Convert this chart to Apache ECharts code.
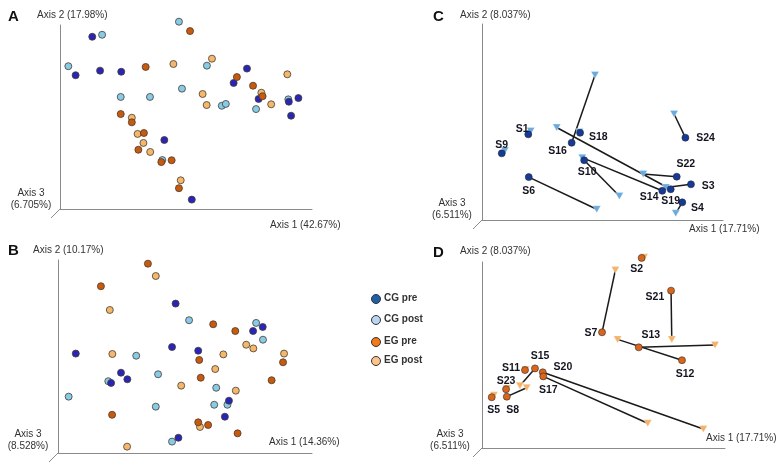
<!DOCTYPE html>
<html>
<head>
<meta charset="utf-8">
<script src="https://cdn.jsdelivr.net/npm/echarts@6/dist/echarts.min.js"></script>
<style>html,body{margin:0;padding:0;background:#fff}#c{width:778px;height:465px}</style>
</head>
<body>
<div id="c"></div>
<script>
// ---------- Panel A (Axis 1 vs Axis 2 scores, rescaled 0-100) ----------
const aCGpre  = [[12.8,93.6],[6.2,72.7],[15.9,75.2],[24.3,74.6],[74.2,76.3],[68.9,68.5],[78.8,59.8],[90.8,58.3],[94.6,60.3],[91.7,50.7],[41.4,37.5],[52.3,5.1]];
const aCGpost = [[47.2,101.8],[16.7,94.7],[3.3,77.6],[58.3,77.9],[48.4,65.4],[24.1,60.9],[35.7,60.9],[64.2,56.1],[65.8,57.1],[77.8,54.3],[90.6,59.6],[40.6,26.6]];
const aEGpre  = [[51.6,96.7],[34.0,77.2],[70.2,71.7],[76.6,67.0],[80.4,61.3],[24.1,51.6],[28.5,47.1],[33.3,41.3],[31.1,32.2],[40.2,25.5],[44.3,26.5],[47.2,11.3]];
const aEGpost = [[45.0,78.8],[60.3,81.7],[90.2,73.2],[56.6,62.5],[58.2,56.5],[79.9,63.2],[83.8,56.9],[28.5,49.6],[30.8,40.8],[33.1,35.9],[35.8,31.0],[47.9,15.6]];

// ---------- Panel B ----------
const bCGpre  = [[46.3,77.4],[76.8,63.2],[80.6,65.3],[44.9,54.9],[55.2,53.0],[7.0,51.5],[24.8,41.6],[27.3,38.2],[20.9,36.3],[67.3,27.1],[65.7,18.8],[47.4,7.9]];
const bCGpost = [[51.6,68.8],[78.0,67.4],[80.7,58.7],[30.8,50.4],[39.4,40.8],[19.8,37.2],[62.3,33.8],[4.2,29.2],[38.5,24.0],[61.5,25.0],[66.7,25.0],[44.9,5.9]];
const bEGpre  = [[35.4,98.1],[16.9,86.4],[61.1,66.7],[69.8,63.2],[55.6,48.2],[88.6,47.0],[56.2,39.0],[84.1,37.7],[21.3,19.8],[55.2,15.9],[59.1,14.5],[70.7,10.2]];
const bEGpost = [[38.5,91.7],[20.4,74.1],[21.4,51.3],[74.1,56.1],[76.9,54.2],[89.0,51.5],[65.1,51.1],[61.9,43.5],[48.5,34.9],[70.0,32.3],[55.9,13.5],[27.2,3.3]];

// ---------- Panel C (CG subjects, pre -> post) ----------
const cSubjects = ['S1','S9','S18','S16','S10','S6','S22','S3','S14','S19','S4','S24'];
const cPre  = [[19.2,43.7],[8.2,34.0],[40.7,44.5],[37.2,39.4],[42.4,30.5],[19.4,21.9],[80.8,22.1],[86.7,18.2],[74.8,14.9],[78.3,15.7],[83.1,9.0],[84.4,42.0]];
const cPost = [[20.2,45.4],[9.5,35.4],[40.4,44.9],[46.9,74.0],[57.0,12.2],[47.6,5.5],[66.9,23.5],[76.3,16.6],[41.6,31.8],[31.0,47.2],[80.4,3.4],[79.7,54.1]];

// ---------- Panel D (EG subjects, pre -> post) ----------
const dSubjects = ['S2','S7','S21','S12','S13','S15','S20','S17','S11','S23','S8','S5'];
const dPre  = [[65.7,102.2],[49.4,62.2],[77.8,84.6],[82.3,47.2],[64.5,54.1],[21.8,42.8],[25.0,40.7],[25.2,38.5],[17.7,41.9],[9.9,31.6],[10.2,27.6],[4.0,27.3]];
const dPost = [[66.7,102.5],[54.9,95.7],[78.1,58.4],[55.8,58.4],[95.9,55.4],[15.6,33.5],[91.1,10.2],[68.2,13.3],[17.9,42.2],[10.3,32.0],[18.4,32.4],[4.9,28.3]];

// ---------- Text ----------
const panelLetters = ['A','B','C','D'];
const axis1Names = ['Axis 1 (42.67%)','Axis 1 (14.36%)','Axis 1 (17.71%)','Axis 1 (17.71%)'];
const axis2Names = ['Axis 2 (17.98%)','Axis 2 (10.17%)','Axis 2 (8.037%)','Axis 2 (8.037%)'];
const axis3Names = ['(6.705%)','(8.528%)','(6.511%)','(6.511%)'];
const legendNames = ['CG pre','CG post','EG pre','EG post'];

// ---------- Styles / layout (not data) ----------
const COL = {cgPre:'#2626b8', cgPost:'#86cbe8', egPre:'#c75a0c', egPost:'#f2b86c',
             cPre:'#163a98', cTri:'#6aaade', dPre:'#d9661a', dTri:'#f4b26a'};
const LEG = ['#1f5fa6','#bcd4ef','#f07a1c','#fcc48a'];
const grids = [
  {left:60, top:25, width:252, height:184},
  {left:58, top:260, width:254, height:193},
  {left:482, top:24, width:241, height:196},
  {left:482, top:262, width:243, height:186}
];
// label placement per subject: [position, dx, dy]
const cLab = {S1:['left',7,-5],S9:['top',0,4],S18:['right',2,4],S16:['left',2,8],S10:['bottom',3,0],S6:['bottom',0,2],
              S22:['top',9,0],S3:['right',4,2],S14:['left',3,6],S19:['bottom',0,0],S4:['right',2,6],S24:['right',4,0]};
const dLab = {S2:['bottom',-5,-1],S7:['left',2,1],S21:['left',0,6],S12:['bottom',3,2],S13:['top',12,0],S15:['top',5,0],
              S20:['right',4,-5],S17:['bottom',5,1],S11:['left',2,-2],S23:['top',0,4],S8:['bottom',6,1],S5:['bottom',2,1]};

const xAxes = grids.map((g,i)=>({gridIndex:i,type:'value',min:0,max:100,
  axisLine:{show:true,onZero:false,lineStyle:{color:'#8a8a8a',width:1}},axisTick:{show:false},axisLabel:{show:false},splitLine:{show:false}}));
const yAxes = grids.map((g,i)=>({gridIndex:i,type:'value',min:0,max:100,
  axisLine:{show:true,onZero:false,lineStyle:{color:'#8a8a8a',width:1}},axisTick:{show:false},axisLabel:{show:false},splitLine:{show:false}}));

function dots(idx,data,color,z){
  return {type:'scatter',xAxisIndex:idx,yAxisIndex:idx,data:data,symbol:'circle',symbolSize:7,clip:false,z:z,
    itemStyle:{color:color,borderColor:'#4a3a30',borderWidth:0.8,opacity:1},emphasis:{disabled:true},silent:true};
}
const series = [];
series.push(dots(0,aCGpost,COL.cgPost,3),dots(0,aCGpre,COL.cgPre,4),dots(0,aEGpost,COL.egPost,5),dots(0,aEGpre,COL.egPre,6));
series.push(dots(1,bCGpost,COL.cgPost,3),dots(1,bCGpre,COL.cgPre,4),dots(1,bEGpost,COL.egPost,5),dots(1,bEGpre,COL.egPre,6));

function pairPanel(idx,subs,pre,post,preCol,triCol,lab){
  subs.forEach((s,k)=>{
    series.push({type:'line',xAxisIndex:idx,yAxisIndex:idx,data:[pre[k],post[k]],symbol:'none',clip:false,z:2,silent:true,
      lineStyle:{color:'#1a1a1a',width:1.5}});
  });
  series.push({type:'scatter',xAxisIndex:idx,yAxisIndex:idx,data:post,symbol:'triangle',symbolRotate:180,symbolSize:[8,7],clip:false,z:3,silent:true,
    itemStyle:{color:triCol,opacity:1,borderColor:'#ffffff',borderWidth:0.3}});
  series.push({type:'scatter',xAxisIndex:idx,yAxisIndex:idx,symbol:'circle',symbolSize:7,clip:false,z:4,silent:true,
    data:pre.map((p,k)=>({value:p,name:subs[k],label:{position:lab[subs[k]][0],offset:[lab[subs[k]][1],lab[subs[k]][2]]}})),
    itemStyle:{color:preCol,opacity:1,borderColor:'#2a2a30',borderWidth:0.6},
    label:{show:true,formatter:'{b}',fontFamily:'Liberation Sans',fontWeight:'bold',fontSize:10.5,color:'#141420',distance:3}});
}
pairPanel(2,cSubjects,cPre,cPost,COL.cPre,COL.cTri,cLab);
pairPanel(3,dSubjects,dPre,dPost,COL.dPre,COL.dTri,dLab);

// graphic: letters, axis names, axis-3 stubs, legend
const g = [];
const tf = {fontFamily:'Liberation Sans',fontSize:10,fill:'#333'};
const letterPos = [[8,9],[8,243],[433,9],[433,245]];
const a2Pos = [[37,10],[33,245],[460,10],[460,246]];
const a1Pos = [[270,220],[269,437],[689,224],[706,433]];
const a3Pos = [[31,187],[28,428],[452,197],[450,428]];
grids.forEach((gr,i)=>{
  g.push({type:'text',left:letterPos[i][0],top:letterPos[i][1],style:{text:panelLetters[i],font:'bold 15px "Liberation Sans"',fill:'#111'}});
  g.push({type:'text',left:a2Pos[i][0],top:a2Pos[i][1],style:Object.assign({text:axis2Names[i]},tf)});
  g.push({type:'text',left:a1Pos[i][0],top:a1Pos[i][1],style:Object.assign({text:axis1Names[i]},tf)});
  g.push({type:'text',x:a3Pos[i][0],y:a3Pos[i][1],style:Object.assign({text:'Axis 3\n'+axis3Names[i],textAlign:'center',lineHeight:12},tf)});
  const x0 = gr.left, y0 = gr.top+gr.height;
  g.push({type:'line',shape:{x1:x0,y1:y0,x2:x0-9,y2:y0+9},style:{stroke:'#8a8a8a',lineWidth:1}});
});
const legY = [299,320,342,361];
legendNames.forEach((n,i)=>{
  g.push({type:'circle',shape:{cx:376,cy:legY[i],r:4.5},style:{fill:LEG[i],stroke:'#333',lineWidth:1}});
  g.push({type:'text',left:384,top:legY[i]-6,style:{text:n,font:'bold 10px "Liberation Sans"',fill:'#333'}});
});

const chart = echarts.init(document.getElementById('c'),null,{renderer:'canvas'});
chart.setOption({animation:false,backgroundColor:'#fff',grid:grids,xAxis:xAxes,yAxis:yAxes,series:series,graphic:g});
</script>
</body>
</html>
